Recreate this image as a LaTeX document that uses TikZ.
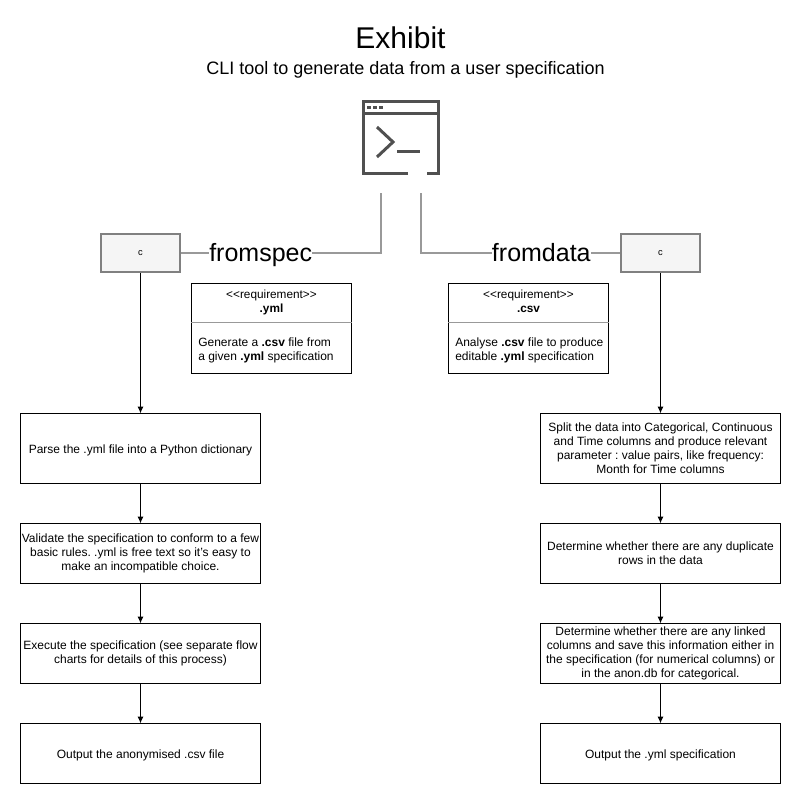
\documentclass[tikz,border=0pt]{standalone}
\usepackage{fontspec}
\setmainfont{Liberation Sans}
\usetikzlibrary{arrows.meta,positioning}
\frenchspacing
\definecolor{wiregray}{HTML}{999999}
\definecolor{icongray}{HTML}{505050}
\definecolor{boxgray}{HTML}{F5F5F5}
\definecolor{edgegray}{HTML}{808080}
\tikzset{
block/.style={
  rectangle,
  draw,
  line width=0.75pt,
  outer sep=0pt,
  align=center,
  inner sep=1pt,
  minimum width=180pt,
  execute at begin node={\rule{0pt}{10pt}},
  font=\fontsize{9}{10.5}\selectfont},
cmd/.style={
  rectangle,
  draw=edgegray,
  fill=boxgray,
  line width=1.5pt,
  minimum width=59pt,
  minimum height=29pt,
  font=\fontsize{7}{8}\selectfont},
req/.style={
  rectangle,
  draw,
  line width=0.75pt,
  minimum width=120pt,
  minimum height=67.5pt},
reqtext/.style={
  inner sep=0pt,
  font=\fontsize{8.85}{10.5}\selectfont},
reqbody/.style={
  inner sep=0pt,
  align=left,
  anchor=north west,
  font=\fontsize{9}{10.5}\selectfont},
line/.style={draw, line width=0.75pt, -{Latex[length=5pt,width=4.5pt]}},
wire/.style={draw=wiregray, line width=1.5pt},
divider/.style={draw=wiregray, line width=0.75pt},
icon/.style={draw=icongray, line width=2.25pt},
cmdlabel/.style={
  fill=white,
  inner sep=0pt,
  text height=16pt,
  text depth=4pt,
  font=\fontsize{18.75}{22}\selectfont}
}
\begin{document}
\begin{tikzpicture}[x=0.75pt,y=-0.75pt,node distance=30pt]
    \useasboundingbox (0,0) rectangle (801,804);
    \node [font=\fontsize{22.5}{28}\selectfont] (title) at (400.5,38) {Exhibit};
    \node [font=\fontsize{13.5}{16}\selectfont] (subtitle) at (405.5,69.5) {CLI tool to generate data from a user specification};
    % terminal icon
    \draw [icon] (408,173) -- (363,173) -- (363,101) -- (438,101) -- (438,173) -- (427,173);
    \draw [icon] (363,113) -- (438,113);
    \draw [icon] (377,127) -- (393,142) -- (377,157);
    \draw [icon] (397,151) -- (420,151);
    \foreach \dotx in {367,373,379}
      \fill [icongray] (\dotx,105.5) rectangle +(3.5,3.5);
    \coordinate (termL) at (380.5,193);
    \coordinate (termR) at (420.5,193);
    \node [cmd] (spec) at (140.5,253) {c};
    \node [cmd] (data) at (660.5,253) {c};
    \path [wire] (termL) |- (spec) node [cmdlabel, pos=0.8] (specname) {fromspec};
    \path [wire] (termR) |- (data) node [cmdlabel, pos=0.8025] (dataname) {fromdata};
    % requirements
    \node [req] (reqyml) at (271.5,328.5) {};
    \node [reqtext, align=center, below=5pt of reqyml.north] (reqymlhead) {<{}<requirement>{}>\\\textbf{.yml}};
    \node [reqbody] (reqymlbody) at (198,337.5) {Generate a \textbf{.csv} file from\\a given \textbf{.yml} specification};
    \coordinate (reqymlcut) at (0,322.5);
    \path [divider] (reqyml.west |- reqymlcut) -- (reqyml.east |- reqymlcut);
    \node [req] (reqcsv) at (528.5,328.5) {};
    \node [reqtext, align=center, below=5pt of reqcsv.north] (reqcsvhead) {<{}<requirement>{}>\\\textbf{.csv}};
    \node [reqbody] (reqcsvbody) at (455,337.5) {Analyse \textbf{.csv} file to produce\\editable \textbf{.yml} specification};
    \path [divider] (reqcsv.west |- reqymlcut) -- (reqcsv.east |- reqymlcut);
    % fromspec steps
    \node [block, minimum height=52.5pt, below=105pt of spec] (parse) {Parse the .yml file into a Python dictionary};
    \node [block, minimum height=45pt, below=of parse] (validate) {Validate the specification to conform to a few\\basic rules. .yml is free text so it's easy to\\make an incompatible choice.};
    \node [block, minimum height=45pt, below=of validate] (execute) {Execute the specification (see separate flow\\charts for details of this process)};
    \node [block, minimum height=45pt, below=of execute] (output) {Output the anonymised .csv file};
    % fromdata steps
    \node [block, minimum height=52.5pt, below=105pt of data] (split) {Split the data into Categorical, Continuous\\and Time columns and produce relevant\\parameter : value pairs, like frequency:\\Month for Time columns};
    \node [block, minimum height=45pt, below=of split] (dupes) {Determine whether there are any duplicate\\rows in the data};
    \node [block, minimum height=45pt, below=of dupes] (linked) {Determine whether there are any linked\\columns and save this information either in\\the specification (for numerical columns) or\\in the anon.db for categorical.};
    \node [block, minimum height=45pt, below=of linked] (outyml) {Output the .yml specification};
    \path [line] (spec) -- (parse);
    \path [line] (parse) -- (validate);
    \path [line] (validate) -- (execute);
    \path [line] (execute) -- (output);
    \path [line] (data) -- (split);
    \path [line] (split) -- (dupes);
    \path [line] (dupes) -- (linked);
    \path [line] (linked) -- (outyml);
\end{tikzpicture}
\end{document}
